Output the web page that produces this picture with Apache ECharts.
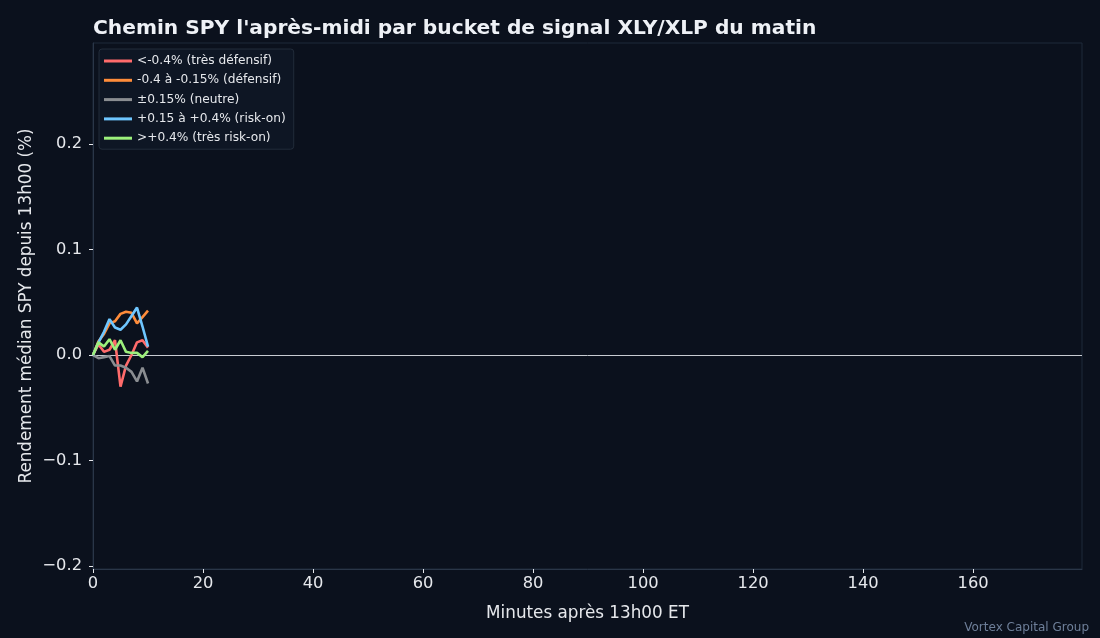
<!DOCTYPE html>
<html>
<head>
<meta charset="utf-8">
<script src="https://cdn.jsdelivr.net/npm/echarts@6/dist/echarts.min.js"></script>
<style>
html,body{margin:0;padding:0;background:#0b111d;}
#c{width:1100px;height:638px;}
</style>
</head>
<body>
<div id="c"></div>
<script>
const minutes = [0,1,2,3,4,5,6,7,8,9,10];
const seriesNames = ["<-0.4% (très défensif)", "-0.4 à -0.15% (défensif)", "±0.15% (neutre)", "+0.15 à +0.4% (risk-on)", ">+0.4% (très risk-on)"];
const tresDefensif = [0, 0.010, 0.003, 0.005, 0.014, -0.030, -0.010, 0.000, 0.012, 0.014, 0.007];
const defensif     = [0, 0.013, 0.020, 0.030, 0.032, 0.039, 0.041, 0.040, 0.030, 0.036, 0.042];
const neutre       = [0, -0.003, -0.002, -0.001, -0.010, -0.010, -0.012, -0.016, -0.025, -0.012, -0.027];
const riskOn       = [0, 0.012, 0.022, 0.034, 0.026, 0.024, 0.029, 0.037, 0.045, 0.027, 0.008];
const tresRiskOn   = [0, 0.012, 0.008, 0.015, 0.005, 0.014, 0.003, 0.002, 0.002, -0.002, 0.004];
const xTicks = [0,20,40,60,80,100,120,140,160];
const yTicks = [-0.2,-0.1,0.0,0.1,0.2];

const colors = ["#ff6b6b","#ff8c3a","#8a8d91","#6ec6ff","#9cf07c"];
const allData = [tresDefensif, defensif, neutre, riskOn, tresRiskOn];
const font = "DejaVu Sans, sans-serif";

const series = allData.map((vals, i) => ({
  name: seriesNames[i],
  type: 'line',
  data: minutes.map((m, j) => [m, vals[j]]),
  showSymbol: false,
  symbol: 'none',
  lineStyle: {width: 2.6, color: colors[i]},
  itemStyle: {color: colors[i]},
  z: 3,
  markLine: i === 0 ? {
    silent: true,
    symbol: 'none',
    label: {show: false},
    lineStyle: {color: '#c8ccd2', width: 1, type: 'solid'},
    data: [{yAxis: 0}],
    z: 1
  } : undefined
}));

const chart = echarts.init(document.getElementById('c'));
chart.setOption({
  backgroundColor: '#0b111d',
  animation: false,
  title: {
    text: "Chemin SPY l'après-midi par bucket de signal XLY/XLP du matin",
    left: 93, top: 19, padding: 0,
    textStyle: {color: '#eef1f6', fontSize: 20.2, fontWeight: 'bold', fontFamily: font}
  },
  graphic: [{
    type: 'text', right: 11, top: 622,
    style: {text: 'Vortex Capital Group', fill: '#6e7f99', font: '12px ' + font}
  }],
  legend: {
    left: 99, top: 49, orient: 'vertical',
    icon: 'rect', itemWidth: 28, itemHeight: 3, itemGap: 5.3,
    padding: [5, 8, 4, 5],
    backgroundColor: '#0e1624', borderColor: '#222c3a', borderWidth: 1, borderRadius: 3,
    textStyle: {color: '#e6e8ec', fontSize: 12.2, fontFamily: font, lineHeight: 14},
    data: seriesNames
  },
  grid: {left: 93, right: 18, top: 43, bottom: 69, show: true, borderColor: '#1f2a3a', borderWidth: 1, backgroundColor: 'transparent'},
  xAxis: {
    type: 'value', min: 0, max: 179.8,
    name: 'Minutes après 13h00 ET', nameLocation: 'middle', nameGap: 36, nameMoveOverlap: false,
    nameTextStyle: {color: '#e6e8ec', fontSize: 16.8, fontFamily: font},
    axisLine: {show: true, onZero: false, lineStyle: {color: '#2a3648'}},
    axisTick: {show: true, length: 4, lineStyle: {color: '#e6e8ec'}, customValues: xTicks},
    axisLabel: {color: '#e6e8ec', fontSize: 16.3, fontFamily: font, margin: 7, customValues: xTicks},
    splitLine: {show: false}
  },
  yAxis: {
    type: 'value', min: -0.2028, max: 0.2957,
    name: 'Rendement médian SPY depuis 13h00 (%)', nameLocation: 'middle', nameGap: 58, nameMoveOverlap: false,
    nameTextStyle: {color: '#e6e8ec', fontSize: 16.8, fontFamily: font},
    axisLine: {show: true, onZero: false, lineStyle: {color: '#2a3648'}},
    axisTick: {show: true, length: 4, lineStyle: {color: '#e6e8ec'}, customValues: yTicks},
    axisLabel: {color: '#e6e8ec', fontSize: 16.3, fontFamily: font, margin: 11, customValues: yTicks,
      formatter: v => (Math.abs(v) < 1e-9 ? '0.0' : v.toFixed(1).replace('-', '\u2212'))},
    splitLine: {show: false}
  },
  series: series
});
</script>
</body>
</html>
